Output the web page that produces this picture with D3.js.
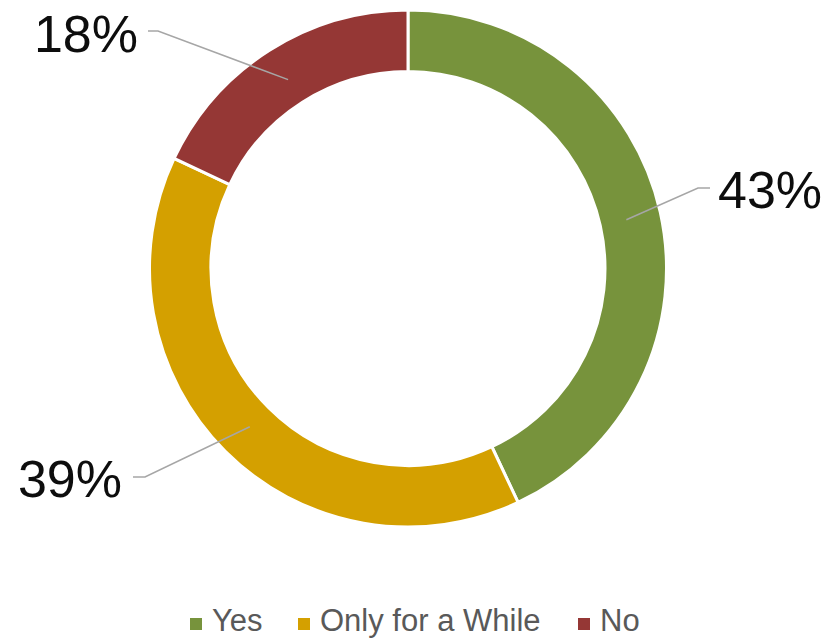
<!DOCTYPE html>
<html><head><meta charset="utf-8">
<script src="https://cdn.jsdelivr.net/npm/d3@7"></script>
<style>body{margin:0;background:#fff}svg{display:block;font-family:"Liberation Sans",Arial,sans-serif}</style>
</head><body>
<svg id="c" width="827" height="638"></svg>
<script>
const categories = ["Yes", "Only for a While", "No"];
const values = [43, 39, 18];
const labels = ["43%", "39%", "18%"];
const colors = ["#77933C", "#D4A000", "#953735"];

const svg = d3.select("#c");
const cx = 408, cy = 268.5, R = 258.5, r = 197;
const g = svg.append("g").attr("transform", `translate(${cx},${cy})`);
const pie = d3.pie().sort(null).value(d => d)(values);
const arc = d3.arc().innerRadius(r).outerRadius(R);
g.selectAll("path").data(pie).enter().append("path")
  .attr("d", arc).attr("fill", (d,i) => colors[i])
  .attr("stroke", "#fff").attr("stroke-width", 3);

// leader lines and labels
const labelPos = [
  {side: 1, ex: 710, ey: 188, bx: 698, tx: 718, ty: 208},
  {side: -1, ex: 133, ey: 477, bx: 145, tx: 122, ty: 497},
  {side: -1, ex: 148, ey: 31, bx: 158, tx: 138, ty: 52}
];
const rIn = (r + R) / 2 + 10;
pie.forEach((d, i) => {
  const a = (d.startAngle + d.endAngle) / 2;
  const p = labelPos[i];
  const sx = cx + Math.sin(a) * (rIn - 14), sy = cy - Math.cos(a) * (rIn - 14);
  svg.append("polyline")
    .attr("points", `${sx},${sy} ${p.bx},${p.ey} ${p.ex},${p.ey}`)
    .attr("fill", "none").attr("stroke", "#A6A6A6").attr("stroke-width", 1.5);
  svg.append("text").attr("x", p.tx).attr("y", p.ty)
    .attr("text-anchor", p.side > 0 ? "start" : "end")
    .attr("font-size", 52).attr("fill", "#0d0d0d").text(labels[i]);
});

// legend
const legX = [190, 298, 578];
const lg = svg.append("g");
categories.forEach((c, i) => {
  lg.append("rect").attr("x", legX[i]).attr("y", 618).attr("width", 12).attr("height", 12).attr("fill", colors[i]);
  lg.append("text").attr("x", legX[i] + 22).attr("y", 631).attr("font-size", 31).attr("fill", "#595959").text(c);
});
</script>
</body></html>
